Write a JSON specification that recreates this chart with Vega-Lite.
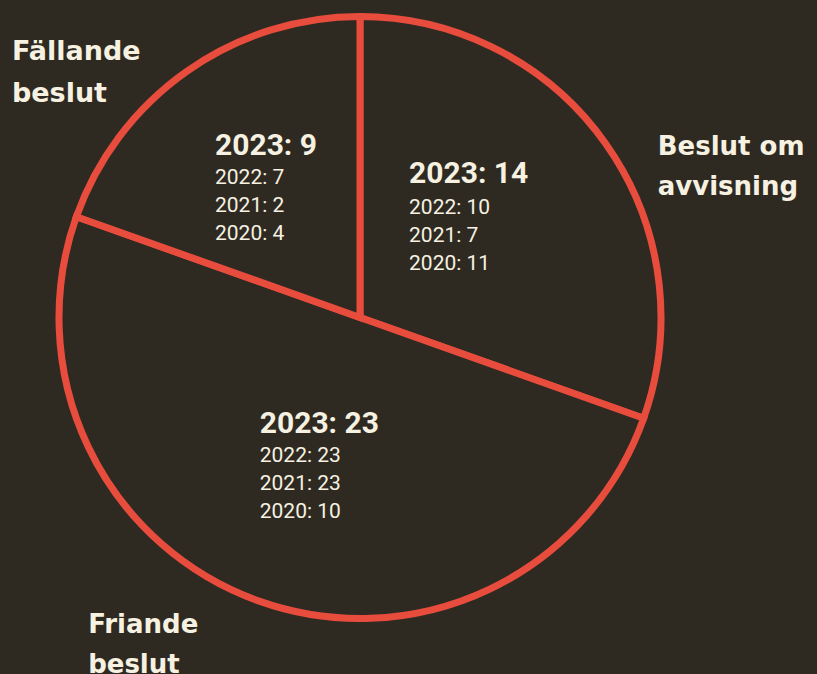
{
  "$schema": "https://vega.github.io/schema/vega-lite/v6.json",
  "autosize": {"type": "none"},
  "width": 720,
  "height": 635,
  "padding": {"left": 0, "right": 97, "top": 0, "bottom": 39},
  "background": "#2e2a22",
  "config": {"view": {"stroke": null}},
  "data": {
    "values": [
      {"beslut": "Beslut om\navvisning", "nr": 1, "v2023": 14, "v2022": 10, "v2021": 7, "v2020": 11},
      {"beslut": "Friande\nbeslut", "nr": 2, "v2023": 23, "v2022": 23, "v2021": 23, "v2020": 10},
      {"beslut": "Fällande\nbeslut", "nr": 3, "v2023": 9, "v2022": 7, "v2021": 2, "v2020": 4}
    ]
  },
  "transform": [
    {"calculate": "'2023: ' + datum.v2023", "as": "rubrik"},
    {"calculate": "'2022: ' + datum.v2022 + '\\n2021: ' + datum.v2021 + '\\n2020: ' + datum.v2020", "as": "detaljer"}
  ],
  "encoding": {
    "theta": {"field": "v2023", "type": "quantitative", "stack": true},
    "order": {"field": "nr", "type": "ordinal"}
  },
  "layer": [
    {
      "mark": {"type": "arc", "outerRadius": 301, "fill": "#2e2a22", "stroke": "#e84c3d", "strokeWidth": 7}
    },
    {
      "mark": {"type": "text", "radius": 150, "dx": -73.5, "dy": -48, "align": "left", "baseline": "alphabetic", "font": "Roboto", "fontWeight": "bold", "fontSize": 30, "fill": "#f6f1e1"},
      "encoding": {"text": {"field": "rubrik"}, "opacity": {"condition": {"test": "datum.nr === 1", "value": 1}, "value": 0}}
    },
    {
      "mark": {"type": "text", "radius": 150, "dx": -73.5, "dy": -17, "align": "left", "baseline": "alphabetic", "font": "Roboto", "fontSize": 21, "lineHeight": 28, "lineBreak": "\n", "fill": "#f6f1e1"},
      "encoding": {"text": {"field": "detaljer"}, "opacity": {"condition": {"test": "datum.nr === 1", "value": 1}, "value": 0}}
    },
    {
      "mark": {"type": "text", "radius": 150, "dx": -50, "dy": -26, "align": "left", "baseline": "alphabetic", "font": "Roboto", "fontWeight": "bold", "fontSize": 30, "fill": "#f6f1e1"},
      "encoding": {"text": {"field": "rubrik"}, "opacity": {"condition": {"test": "datum.nr === 2", "value": 1}, "value": 0}}
    },
    {
      "mark": {"type": "text", "radius": 150, "dx": -50, "dy": 3, "align": "left", "baseline": "alphabetic", "font": "Roboto", "fontSize": 21, "lineHeight": 28, "lineBreak": "\n", "fill": "#f6f1e1"},
      "encoding": {"text": {"field": "detaljer"}, "opacity": {"condition": {"test": "datum.nr === 2", "value": 1}, "value": 0}}
    },
    {
      "mark": {"type": "text", "radius": 150, "dx": -58.5, "dy": -40, "align": "left", "baseline": "alphabetic", "font": "Roboto", "fontWeight": "bold", "fontSize": 30, "fill": "#f6f1e1"},
      "encoding": {"text": {"field": "rubrik"}, "opacity": {"condition": {"test": "datum.nr === 3", "value": 1}, "value": 0}}
    },
    {
      "mark": {"type": "text", "radius": 150, "dx": -58.5, "dy": -11, "align": "left", "baseline": "alphabetic", "font": "Roboto", "fontSize": 21, "lineHeight": 28, "lineBreak": "\n", "fill": "#f6f1e1"},
      "encoding": {"text": {"field": "detaljer"}, "opacity": {"condition": {"test": "datum.nr === 3", "value": 1}, "value": 0}}
    },
    {
      "mark": {"type": "text", "radius": 340, "dx": 20, "dy": 34, "align": "left", "baseline": "alphabetic", "font": "DejaVu Sans", "fontWeight": "bold", "fontSize": 26, "lineHeight": 40, "lineBreak": "\n", "fill": "#f6f1e1"},
      "encoding": {"text": {"field": "beslut"}, "opacity": {"condition": {"test": "datum.nr === 1", "value": 1}, "value": 0}}
    },
    {
      "mark": {"type": "text", "radius": 340, "dx": -158, "dy": -5, "align": "left", "baseline": "alphabetic", "font": "DejaVu Sans", "fontWeight": "bold", "fontSize": 26, "lineHeight": 40, "lineBreak": "\n", "fill": "#f6f1e1"},
      "encoding": {"text": {"field": "beslut"}, "opacity": {"condition": {"test": "datum.nr === 2", "value": 1}, "value": 0}}
    },
    {
      "mark": {"type": "text", "radius": 340, "dx": -152, "dy": 20, "align": "left", "baseline": "alphabetic", "font": "DejaVu Sans", "fontWeight": "bold", "fontSize": 27, "lineHeight": 42, "lineBreak": "\n", "fill": "#f6f1e1"},
      "encoding": {"text": {"field": "beslut"}, "opacity": {"condition": {"test": "datum.nr === 3", "value": 1}, "value": 0}}
    }
  ]
}
